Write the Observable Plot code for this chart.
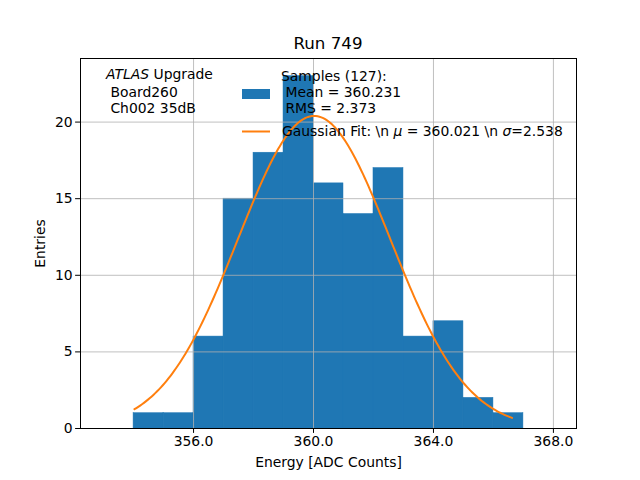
<!DOCTYPE html>
<html>
<head>
<meta charset="utf-8">
<script src="https://cdn.jsdelivr.net/npm/d3@7"></script>
<script src="https://cdn.jsdelivr.net/npm/@observablehq/plot@0.6"></script>
<style>
  body { margin: 0; background: #fff; }
  svg { font-family: "DejaVu Sans", sans-serif; }
</style>
</head>
<body>
<div id="chart"></div>
<script>
// Histogram bins (ADC counts), width 1
const binStarts = [354, 355, 356, 357, 358, 359, 360, 361, 362, 363, 364, 365, 366];
const binCounts = [1, 1, 6, 15, 18, 23, 16, 14, 17, 6, 7, 2, 1];
// Gaussian fit parameters (from legend) and read-off amplitude / range
const fitMu = 360.021;
const fitSigma = 2.538;
const fitAmp = 20.4;
const fitRange = [354.03, 366.62];
const xTicks = [356, 360, 364, 368];
const yTicks = [0, 5, 10, 15, 20];

const bins = binStarts.map((s, i) => ({x1: s, x2: s + 1, y: binCounts[i]}));
const nPts = 200;
const gauss = d3.range(nPts + 1).map(i => {
  const x = fitRange[0] + (fitRange[1] - fitRange[0]) * i / nPts;
  return {x, y: fitAmp * Math.exp(-((x - fitMu) ** 2) / (2 * fitSigma ** 2))};
});

const W = 640, H = 480, mL = 80, mR = 64, mT = 58, mB = 52;
const fs = 13.9;

const plot = Plot.plot({
  width: W, height: H,
  marginLeft: mL, marginRight: mR, marginTop: mT, marginBottom: mB,
  style: {fontFamily: "DejaVu Sans, sans-serif", fontSize: fs + "px", color: "#000", background: "#fff"},
  x: {domain: [352.23, 368.77]},
  y: {domain: [0, 24.15]},
  marks: [
    Plot.rectY(bins, {x1: "x1", x2: "x2", y: "y", fill: "#1f77b4", stroke: "#1f77b4", strokeWidth: 0.5, inset: 0}),
    Plot.gridX(xTicks, {stroke: "#b0b0b0", strokeOpacity: 1, strokeWidth: 0.8}),
    Plot.gridY(yTicks, {stroke: "#b0b0b0", strokeOpacity: 1, strokeWidth: 0.8}),
    Plot.line(gauss, {x: "x", y: "y", stroke: "#ff7f0e", strokeWidth: 2}),
    Plot.frame({stroke: "#000", strokeWidth: 1}),
    Plot.axisX(xTicks, {tickFormat: d3.format(".1f"), tickSize: 4.9, tickPadding: 3, fontSize: fs,
      label: "Energy [ADC Counts]", labelAnchor: "center", labelArrow: "none", labelOffset: 38}),
    Plot.axisY(yTicks, {tickSize: 4.9, tickPadding: 3, fontSize: fs,
      label: "Entries", labelAnchor: "center", labelArrow: "none", labelOffset: 45})
  ]
});
document.getElementById("chart").appendChild(plot);

const svg = d3.select(plot);
const g = svg.append("g").attr("font-family", "DejaVu Sans, sans-serif").attr("font-size", fs)
  .attr("fill", "#000").attr("text-anchor", "start");
// Title
g.append("text").attr("x", (mL + W - mR) / 2).attr("y", 49).attr("text-anchor", "middle")
  .attr("font-size", 16.7).text("Run 749");
// Top-left annotation
const t1 = g.append("text").attr("x", 106).attr("y", 79);
t1.append("tspan").attr("font-style", "italic").text("ATLAS");
t1.append("tspan").text(" Upgrade");
g.append("text").attr("x", 106).attr("y", 97).attr("xml:space", "preserve").text(" Board260");
g.append("text").attr("x", 106).attr("y", 113).attr("xml:space", "preserve").text(" Ch002 35dB");
// Legend
g.append("rect").attr("x", 242).attr("y", 89).attr("width", 28).attr("height", 10).attr("fill", "#1f77b4");
g.append("text").attr("x", 281).attr("y", 81).text("Samples (127):");
g.append("text").attr("x", 281).attr("y", 97).attr("xml:space", "preserve").text(" Mean = 360.231");
g.append("text").attr("x", 281).attr("y", 113).attr("xml:space", "preserve").text(" RMS = 2.373");
g.append("line").attr("x1", 242).attr("x2", 270).attr("y1", 131.5).attr("y2", 131.5)
  .attr("stroke", "#ff7f0e").attr("stroke-width", 2);
const t2 = g.append("text").attr("x", 282).attr("y", 136).attr("xml:space", "preserve");
t2.append("tspan").text("Gaussian Fit: \\n ");
t2.append("tspan").attr("font-style", "italic").text("μ");
t2.append("tspan").text(" = 360.021 \\n ");
t2.append("tspan").attr("font-style", "italic").text("σ");
t2.append("tspan").text("=2.538");
</script>
</body>
</html>
